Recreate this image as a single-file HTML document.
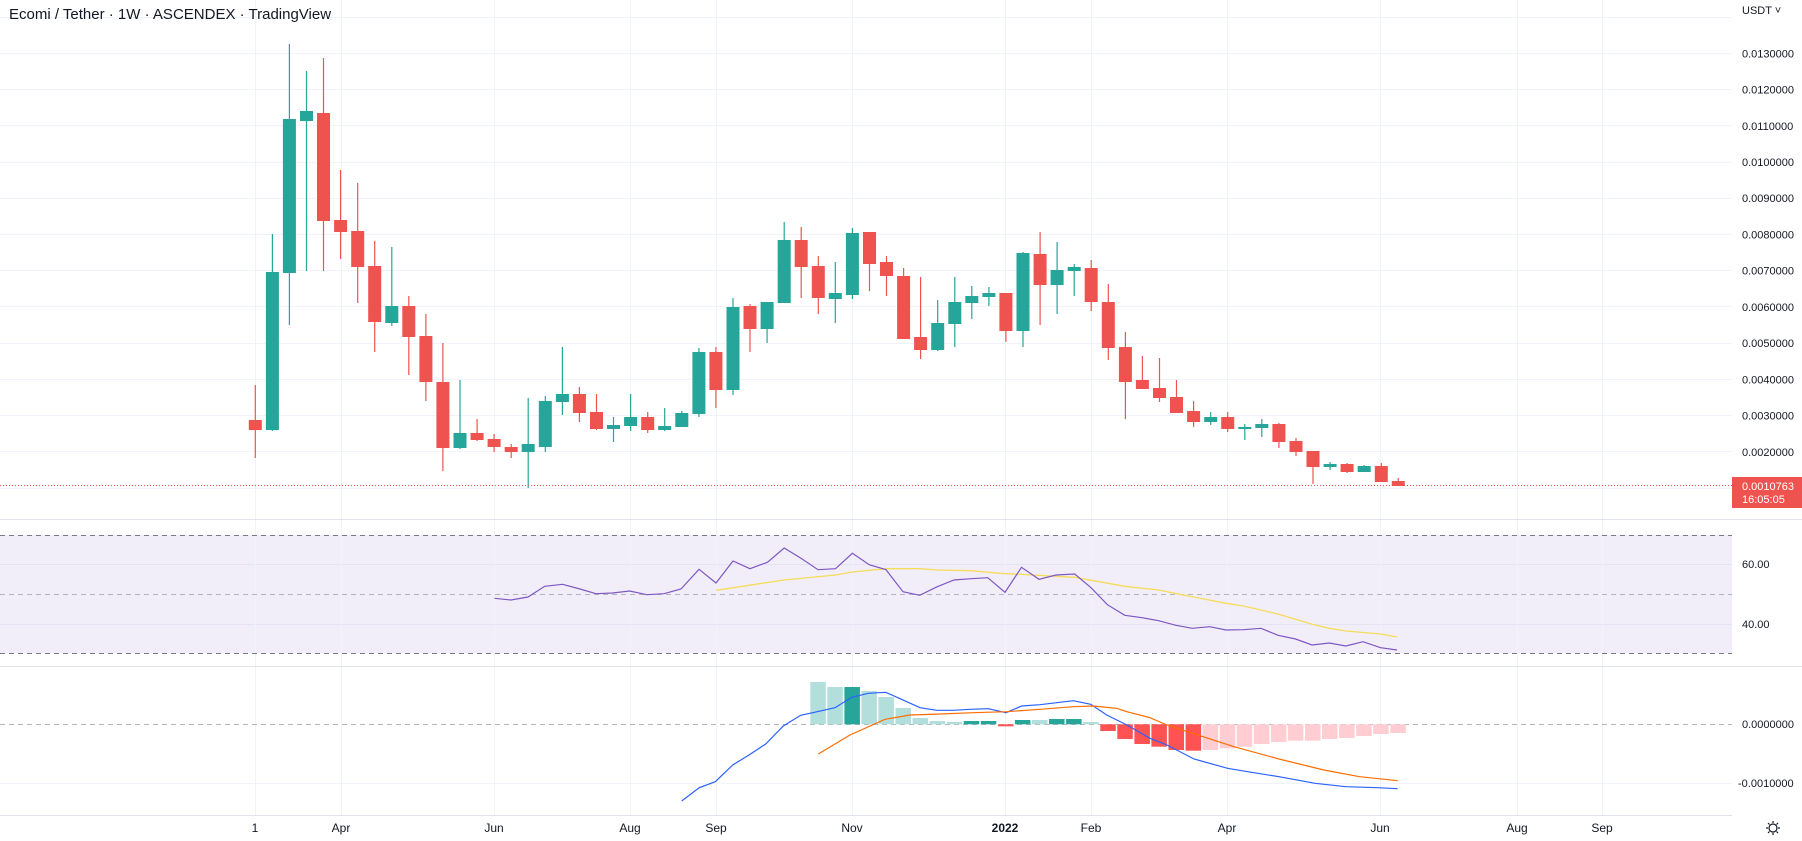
<!DOCTYPE html>
<html><head><meta charset="utf-8"><style>
html,body{margin:0;padding:0;background:#fff;}
svg{display:block;font-family:"Liberation Sans",sans-serif;}
</style></head><body>
<svg width="1802" height="841" viewBox="0 0 1802 841" xmlns="http://www.w3.org/2000/svg">
<rect width="1802" height="841" fill="#fff"/>
<!-- horizontal grid price -->
<g stroke="#f0f3fa" stroke-width="1">
<path d="M0 17.5H1732M0 53.5H1732M0 89.5H1732M0 125.5H1732M0 162.5H1732M0 198.5H1732M0 234.5H1732M0 270.5H1732M0 306.5H1732M0 343.5H1732M0 379.5H1732M0 415.5H1732M0 451.5H1732M0 488.5H1732"/>
<path d="M0 564.5H1732M0 624.5H1732M0 783.5H1732"/>
</g>
<!-- RSI band -->
<rect x="0" y="535" width="1732" height="118" fill="#7e57c2" fill-opacity="0.1"/>
<!-- vertical grid -->
<g stroke="#f0f3fa" stroke-width="1">
<path d="M255.5 0V815M341.5 0V815M494.5 0V815M630.5 0V815M716.5 0V815M852.5 0V815M1005.5 0V815M1091.5 0V815M1227.5 0V815M1380.5 0V815M1517.5 0V815M1602.5 0V815"/>
</g>
<!-- separators -->
<g stroke="#e0e3eb" stroke-width="1">
<path d="M0 519.5H1802M0 666.5H1802M0 815.5H1732"/>
</g>
<!-- RSI dashed -->
<g stroke="#787b86" stroke-width="1" stroke-dasharray="5,4" fill="none">
<path d="M0 535.5H1732M0 653.5H1732"/>
</g>
<path d="M0 594.5H1732" stroke="#b2b5be" stroke-width="1" stroke-dasharray="5,4"/>
<!-- RSI lines -->
<polyline fill="none" stroke="#f5dc5a" stroke-width="1.3" points="716,590.3 784,580 835.5,575 852.4,572 886,568.7 919.7,568.7 937.3,570 971,570.7 1000,573.3 1074.7,577.3 1124.8,586.3 1158.6,590 1192.3,596.7 1226,603.3 1243.5,606 1278,614 1312,624.3 1329.4,628.3 1345.8,631 1380.6,634 1397,637"/>
<polyline fill="none" stroke="#7e57c2" stroke-width="1.2" points="494.5,598.3 511,600 528,597 544.7,586.3 562.6,584.3 580,589 596,593.7 612.4,593 629.6,591 646.8,594.7 664,593.7 681,589 699,569.3 716,583 733,561 750,568.7 767.4,562.3 784.2,548 801,558.3 818,569.7 835.5,568.7 852.4,553.3 869.2,564.7 886,569.7 903,591.7 919.7,595.3 937.3,586.7 954,580 971,578.7 987.8,577.7 1005,592.3 1021.5,567.3 1039,579.3 1056,575 1074.7,574 1091,587.7 1107.4,604.7 1124.8,615.3 1142,617.7 1158.6,620.7 1176,625.3 1192.3,628.3 1209.7,626.7 1226,630 1243.5,629.7 1261,628.3 1278,635.3 1295.6,639 1312,645 1329.4,643 1345.8,646 1363,641.7 1380.6,647.7 1397,650"/>
<!-- MACD zero line -->
<path d="M0 724.5H1732" stroke="#b2b5be" stroke-width="1" stroke-dasharray="5,4"/>
<!-- MACD histogram -->
<g fill="#b2dfdb">
<rect x="810.3" y="682" width="15.5" height="42.3"/>
<rect x="827.3" y="687" width="15.5" height="37.3"/>
<rect x="861.4" y="691" width="15.5" height="33.3"/>
<rect x="878.4" y="697" width="15.5" height="27.3"/>
<rect x="895.5" y="708" width="15.5" height="16.3"/>
<rect x="912.6" y="718" width="15.5" height="6.3"/>
<rect x="929.6" y="721" width="15.5" height="3.3"/>
<rect x="946.7" y="722" width="15.5" height="2.3"/>
<rect x="1032.0" y="720" width="15.5" height="4.3"/>
<rect x="1083.2" y="722" width="15.5" height="2.3"/>
</g>
<g fill="#26a69a">
<rect x="844.4" y="687" width="15.5" height="37.3"/>
<rect x="963.7" y="721" width="15.5" height="3.3"/>
<rect x="980.8" y="721" width="15.5" height="3.3"/>
<rect x="1014.9" y="720" width="15.5" height="4.3"/>
<rect x="1049.0" y="719" width="15.5" height="5.3"/>
<rect x="1066.1" y="719" width="15.5" height="5.3"/>
</g>
<g fill="#ff5252">
<rect x="998" y="724.3" width="15.5" height="2"/>
<rect x="1100.3" y="724.3" width="15.5" height="6.7"/>
<rect x="1117.3" y="724.3" width="15.5" height="14.7"/>
<rect x="1134.4" y="724.3" width="15.5" height="19.7"/>
<rect x="1151.4" y="724.3" width="15.5" height="22.4"/>
<rect x="1168.5" y="724.3" width="15.5" height="25.7"/>
<rect x="1185.6" y="724.3" width="15.5" height="26.4"/>
</g>
<g fill="#ffcdd2">
<rect x="1202.6" y="724.3" width="15.5" height="25.7"/>
<rect x="1219.7" y="724.3" width="15.5" height="24"/>
<rect x="1236.7" y="724.3" width="15.5" height="22.4"/>
<rect x="1253.8" y="724.3" width="15.5" height="19.7"/>
<rect x="1270.9" y="724.3" width="15.5" height="17.7"/>
<rect x="1287.9" y="724.3" width="15.5" height="16.4"/>
<rect x="1305.0" y="724.3" width="15.5" height="16.4"/>
<rect x="1322.0" y="724.3" width="15.5" height="14.7"/>
<rect x="1339.1" y="724.3" width="15.5" height="13.7"/>
<rect x="1356.2" y="724.3" width="15.5" height="11.7"/>
<rect x="1373.2" y="724.3" width="15.5" height="9.7"/>
<rect x="1390.3" y="724.3" width="15.5" height="8.7"/>
</g>
<!-- MACD lines -->
<polyline fill="none" stroke="#2962ff" stroke-width="1.2" points="681.7,801 699.3,787.7 715.3,781.7 732.7,765 749,755 765.7,744 783.3,726 800.7,715.3 817.3,711.7 835,707.7 851.7,697.3 868.3,693.3 885.7,692.3 902.3,699.7 920,707.7 936.7,710.3 953.3,710.3 970,709.3 988.3,708.7 1006,712.7 1021.7,706 1040,704.7 1056.7,702.7 1073.3,700.7 1090.7,704.3 1106.7,715 1126.9,725 1150,738.3 1167,745 1194,759 1227.6,768.3 1247.7,771.7 1279,776.7 1315,783.3 1346,786.7 1377.5,787.7 1397.7,788.7"/>
<polyline fill="none" stroke="#ff6d00" stroke-width="1.2" points="818.3,754 850,735 885,719.3 910,715 940,714 973.3,712.7 1006.7,711.7 1040,709.3 1073.3,706.7 1093.3,706 1116.7,708.3 1126.9,711.7 1150,717.7 1167,725 1203,736.7 1234,746.7 1279,759 1323.8,770 1359.6,776.7 1397.7,780.7"/>
<!-- candles green -->
<g stroke="#26a69a" stroke-width="1.2" fill="none">
<path d="M272.4 234V431M289.4 44V325M306.5 71V271M391.8 247V326M460 380V449M528.2 398V488M545.3 396V452M562.4 347V415M613.5 417V442M630.6 394V431M664.7 408V431M681.8 411V427M698.9 348V417M733 298V395M767.1 302V343M784.2 222V303M835.3 262V323M852.4 228V299M937.7 300V351M954.8 277V347M971.8 286V319M988.9 287V306M1023 252V347M1057.1 242V314M1074.2 264V296M1210.7 412V425M1244.8 424V440M1261.8 419V437M1330.1 462V470M1364.2 465V472"/>
</g>
<g fill="#26a69a">
<rect x="265.9" y="272" width="13" height="158"/>
<rect x="282.9" y="119" width="13" height="154"/>
<rect x="300" y="111" width="13" height="10"/>
<rect x="385.3" y="306" width="13" height="17"/>
<rect x="453.5" y="433" width="13" height="15"/>
<rect x="521.7" y="444" width="13" height="8"/>
<rect x="538.8" y="401" width="13" height="46"/>
<rect x="555.9" y="394" width="13" height="8"/>
<rect x="607" y="425" width="13" height="4"/>
<rect x="624.1" y="417" width="13" height="9"/>
<rect x="658.2" y="426" width="13" height="4"/>
<rect x="675.3" y="413" width="13" height="14"/>
<rect x="692.4" y="352" width="13" height="62"/>
<rect x="726.5" y="307" width="13" height="83"/>
<rect x="760.6" y="302" width="13" height="27"/>
<rect x="777.7" y="240" width="13" height="63"/>
<rect x="828.8" y="293" width="13" height="6"/>
<rect x="845.9" y="233" width="13" height="62"/>
<rect x="931.2" y="323" width="13" height="27"/>
<rect x="948.3" y="302" width="13" height="22"/>
<rect x="965.3" y="296" width="13" height="7"/>
<rect x="982.4" y="293" width="13" height="4"/>
<rect x="1016.5" y="253" width="13" height="78"/>
<rect x="1050.6" y="270" width="13" height="15"/>
<rect x="1067.7" y="267" width="13" height="4"/>
<rect x="1204.2" y="417" width="13" height="5"/>
<rect x="1238.3" y="427" width="13" height="2"/>
<rect x="1255.3" y="424" width="13" height="4"/>
<rect x="1323.6" y="464" width="13" height="3"/>
<rect x="1357.7" y="466" width="13" height="6"/>
</g>
<!-- candles red -->
<g stroke="#ef5350" stroke-width="1.2" fill="none">
<path d="M255.3 385V458M323.5 58V271M340.6 170V259M357.7 183V303M374.7 241V352M408.8 296V375M425.9 314V401M442.9 343V471M477.1 419V441M494.1 434V452M511.2 444V458M579.4 387V422M596.5 394V430M647.7 412V433M715.9 347V408M750 304V352M801.2 227V298M818.3 256V314M869.5 232V291M886.5 256V296M903.6 268V339M920.6 277V359M1005.9 293V342M1040.1 232V325M1091.2 260V311M1108.3 284V360M1125.4 332V419M1142.4 356V389M1159.5 358V402M1176.5 380V413M1193.6 401V427M1227.7 412V432M1278.9 423V448M1296 438V456M1313 451V484M1347.1 463V473M1381.3 463V482M1398.3 478V486"/>
</g>
<g fill="#ef5350">
<rect x="248.8" y="420" width="13" height="10"/>
<rect x="317" y="113" width="13" height="108"/>
<rect x="334.1" y="220" width="13" height="12"/>
<rect x="351.2" y="231" width="13" height="36"/>
<rect x="368.2" y="266" width="13" height="56"/>
<rect x="402.3" y="306" width="13" height="31"/>
<rect x="419.4" y="336" width="13" height="46"/>
<rect x="436.4" y="382" width="13" height="66"/>
<rect x="470.6" y="433" width="13" height="7"/>
<rect x="487.6" y="439" width="13" height="8"/>
<rect x="504.7" y="447" width="13" height="5"/>
<rect x="572.9" y="394" width="13" height="19"/>
<rect x="590" y="412" width="13" height="17"/>
<rect x="641.2" y="417" width="13" height="13"/>
<rect x="709.4" y="352" width="13" height="38"/>
<rect x="743.5" y="306" width="13" height="23"/>
<rect x="794.7" y="240" width="13" height="27"/>
<rect x="811.8" y="266" width="13" height="32"/>
<rect x="863" y="232" width="13" height="32"/>
<rect x="880" y="262" width="13" height="14"/>
<rect x="897.1" y="276" width="13" height="63"/>
<rect x="914.1" y="337" width="13" height="13"/>
<rect x="999.4" y="293" width="13" height="38"/>
<rect x="1033.6" y="254" width="13" height="31"/>
<rect x="1084.7" y="268" width="13" height="34"/>
<rect x="1101.8" y="302" width="13" height="46"/>
<rect x="1118.9" y="347" width="13" height="35"/>
<rect x="1135.9" y="380" width="13" height="9"/>
<rect x="1153" y="388" width="13" height="10"/>
<rect x="1170" y="397" width="13" height="16"/>
<rect x="1187.1" y="411" width="13" height="11"/>
<rect x="1221.2" y="417" width="13" height="12"/>
<rect x="1272.4" y="424" width="13" height="18"/>
<rect x="1289.5" y="441" width="13" height="11"/>
<rect x="1306.5" y="451" width="13" height="16"/>
<rect x="1340.6" y="464" width="13" height="8"/>
<rect x="1374.8" y="466" width="13" height="16"/>
<rect x="1391.8" y="481" width="13" height="5"/>
</g>
<!-- current price line -->
<path d="M0 485.5H1732" stroke="#ef5350" stroke-width="1" stroke-dasharray="1,2"/>
<!-- title -->
<text x="9" y="19" font-size="15" fill="#131722">Ecomi / Tether · 1W · ASCENDEX · TradingView</text>
<!-- price axis -->
<g font-size="11" fill="#131722">
<text x="1742" y="14" fill="#131722">USDT ˅</text>
<text x="1742" y="57.3">0.0130000</text>
<text x="1742" y="93.5">0.0120000</text>
<text x="1742" y="129.8">0.0110000</text>
<text x="1742" y="166">0.0100000</text>
<text x="1742" y="202.2">0.0090000</text>
<text x="1742" y="238.5">0.0080000</text>
<text x="1742" y="274.7">0.0070000</text>
<text x="1742" y="310.9">0.0060000</text>
<text x="1742" y="347.1">0.0050000</text>
<text x="1742" y="383.4">0.0040000</text>
<text x="1742" y="419.6">0.0030000</text>
<text x="1742" y="455.8">0.0020000</text>
<text x="1742" y="568">60.00</text>
<text x="1742" y="628">40.00</text>
<text x="1742" y="728">0.0000000</text>
<text x="1738" y="787">-0.0010000</text>
</g>
<rect x="1732" y="477" width="70" height="31" fill="#ef5350"/>
<g font-size="11" fill="#fff">
<text x="1742" y="490">0.0010763</text>
<text x="1742" y="503">16:05:05</text>
</g>
<!-- time axis -->
<g font-size="12" fill="#131722" text-anchor="middle">
<text x="255" y="832">1</text>
<text x="341" y="832">Apr</text>
<text x="494" y="832">Jun</text>
<text x="630" y="832">Aug</text>
<text x="716" y="832">Sep</text>
<text x="852" y="832">Nov</text>
<text x="1005" y="832" font-weight="bold">2022</text>
<text x="1091" y="832">Feb</text>
<text x="1227" y="832">Apr</text>
<text x="1380" y="832">Jun</text>
<text x="1517" y="832">Aug</text>
<text x="1602" y="832">Sep</text>
</g>
<g stroke="#131722" stroke-width="1.2" fill="none">
<circle cx="1773" cy="828" r="4"/>
<path d="M1773 821V823M1773 833V835M1766 828H1768M1778 828H1780M1768 823L1769.5 824.5M1776.5 831.5L1778 833M1768 833L1769.5 831.5M1776.5 824.5L1778 823"/>
</g>
</svg>
</body></html>
